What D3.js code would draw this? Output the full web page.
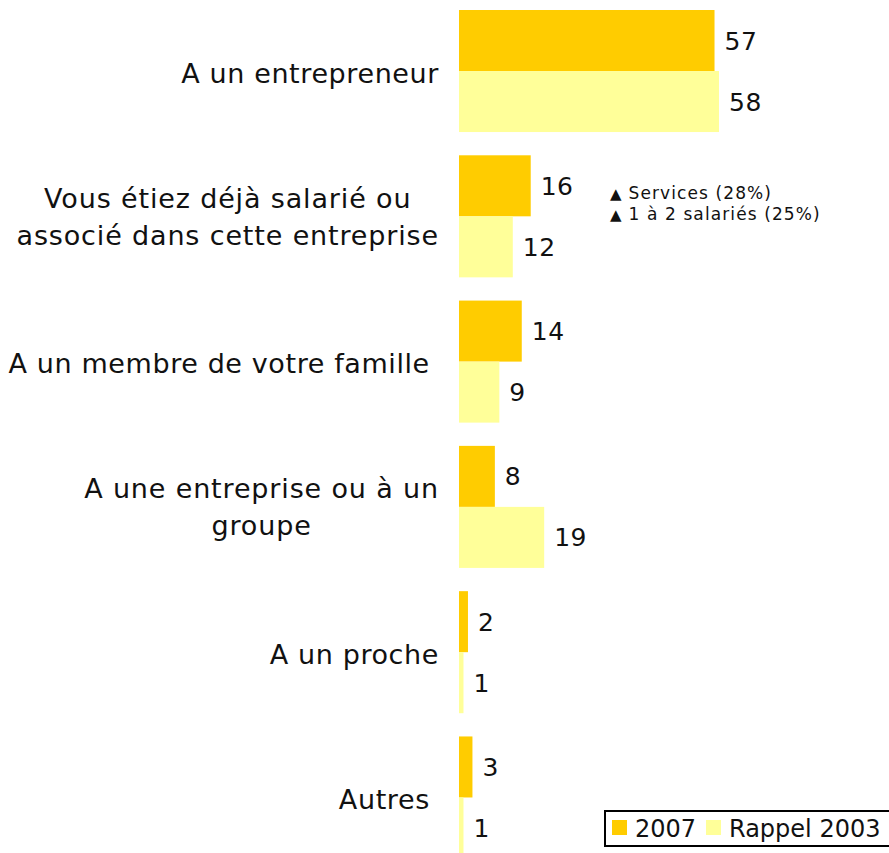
<!DOCTYPE html>
<html>
<head>
<meta charset="utf-8">
<script src="https://cdn.jsdelivr.net/npm/d3@7"></script>
<style>
    body { margin: 0; background: #fff; }
    svg { display: block; font-family: "DejaVu Sans", Verdana, sans-serif; }
</style>
</head>
<body>
<svg id="chart" width="889" height="853"></svg>
<script>
const categories = [
    ["A un entrepreneur"],
    ["Vous étiez déjà salarié ou", "associé dans cette entreprise"],
    ["A un membre de votre famille\u00a0"],
    ["A une entreprise ou à un", "groupe"],
    ["A un proche"],
    ["Autres\u00a0"]
];
const seriesNames = ["2007", "Rappel 2003"];
const values2007 = [57, 16, 14, 8, 2, 3];
const values2003 = [58, 12, 9, 19, 1, 1];
const colors = ["#FFCC00", "#FFFF99"];
const notes = ["Services (28%)", "1 à 2 salariés (25%)"];

const svg = d3.select("#chart");

const x = d3.scaleLinear()
    .domain([0, 58])
    .range([459, 719]);

const y = d3.scaleBand()
    .domain(d3.range(categories.length))
    .range([10, 858.5])
    .paddingInner(0.16)
    .paddingOuter(0);

const ySub = d3.scaleBand()
    .domain([0, 1])
    .range([0, y.bandwidth()]);

const rows = categories.map((c, i) => ({
    i: i,
    label: c,
    vals: [values2007[i], values2003[i]]
}));

const groups = svg.selectAll(".group")
    .data(rows)
    .join("g")
    .attr("class", "group")
    .attr("transform", d => `translate(0, ${y(d.i)})`);

groups.selectAll("rect")
    .data(d => d.vals.map((v, s) => ({ v: v, s: s })))
    .join("rect")
    .attr("x", x(0))
    .attr("y", d => ySub(d.s))
    .attr("width", d => x(d.v) - x(0))
    .attr("height", ySub.bandwidth())
    .attr("fill", d => colors[d.s]);

groups.selectAll(".val")
    .data(d => d.vals.map((v, s) => ({ v: v, s: s })))
    .join("text")
    .attr("class", "val")
    .attr("x", d => x(d.v) + 10)
    .attr("y", d => ySub(d.s) + ySub.bandwidth() / 2)
    .attr("dy", "0.36em")
    .attr("font-size", 25)
    .attr("letter-spacing", 0.5)
    .attr("fill", "#111")
    .text(d => d.v);

// category labels: block right aligned, lines centred inside the block
groups.each(function (d) {
    const g = d3.select(this);
    const lineH = 37;
    const single = d.label.length === 1;
    const cy = y.bandwidth() / 2 - (d.label.length - 1) * lineH / 2 + (single ? 2 : 0);
    const t = g.append("text")
        .attr("font-size", 27)
        .attr("letter-spacing", single ? 0.6 : 0.85)
        .attr("fill", "#111")
        .attr("text-anchor", "middle")
        .style("white-space", "pre");
    d.label.forEach((line, k) => {
        t.append("tspan")
            .attr("y", cy + k * lineH)
            .attr("dy", "0.36em")
            .text(line);
    });
    let w = 0;
    t.selectAll("tspan").each(function () {
        w = Math.max(w, this.getComputedTextLength());
    });
    t.selectAll("tspan").attr("x", 439 - w / 2);
});

// annotation next to the second group
const note = svg.append("g")
    .attr("transform", `translate(610, ${y(1) + 38})`);
notes.forEach((n, k) => {
    const t = note.append("text")
        .attr("y", k * 21)
        .attr("dy", "0.36em")
        .attr("font-size", 17)
        .attr("letter-spacing", 1.1)
        .attr("fill", "#111");
    t.append("tspan").attr("font-size", 15).attr("letter-spacing", 0).text("▲");
    t.append("tspan").attr("dx", 7).text(n);
});

// legend
const legend = svg.append("g").attr("transform", "translate(605, 811)");
legend.append("rect")
    .attr("width", 290)
    .attr("height", 35)
    .attr("fill", "#fff")
    .attr("stroke", "#000")
    .attr("stroke-width", 2);
const legX = [7, 101];
seriesNames.forEach((s, k) => {
    legend.append("rect")
        .attr("x", legX[k])
        .attr("y", 9)
        .attr("width", 15)
        .attr("height", 15)
        .attr("fill", colors[k]);
    legend.append("text")
        .attr("x", legX[k] + 23)
        .attr("y", 17)
        .attr("dy", "0.36em")
        .attr("font-size", 24)
        .attr("fill", "#111")
        .text(s);
});
</script>
</body>
</html>
